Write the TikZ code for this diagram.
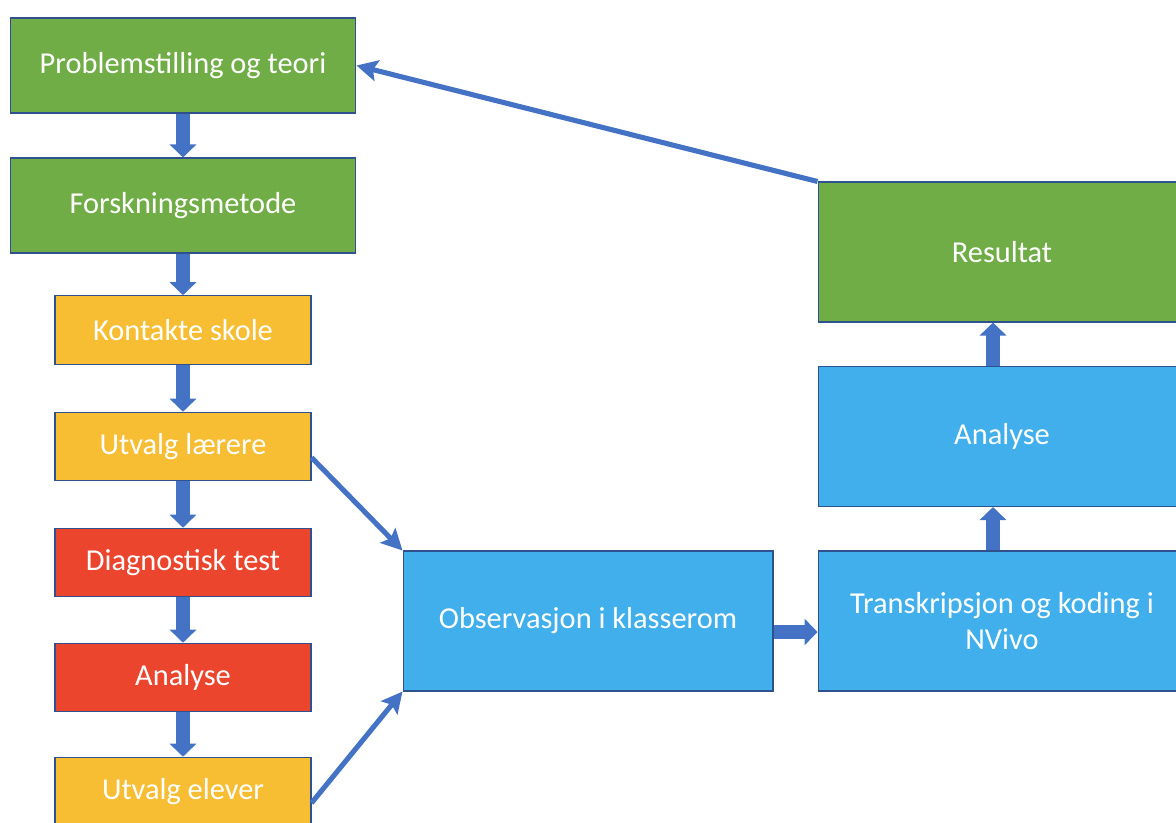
\documentclass[tikz,border=0pt]{standalone}
\usepackage{fontspec}
\setmainfont{Carlito}
\usetikzlibrary{arrows.meta}

\definecolor{grn}{HTML}{70AD47}
\definecolor{gul}{HTML}{F7BD33}
\definecolor{rod}{HTML}{EC452E}
\definecolor{bla}{HTML}{40AFEC}
\definecolor{pil}{HTML}{4472C4}
\definecolor{kant}{HTML}{2F528F}

\begin{document}
\begin{tikzpicture}[x=0.02cm, y=-0.02cm,
    boks/.style={draw=kant, line width=0.6pt, text=white, align=center, inner sep=0pt,
        font=\fontsize{17.3}{21}\selectfont},
    stor/.style={boks, fill=grn, minimum width=6.92cm, minimum height=1.9cm},
    liten/.style={boks, minimum width=5.12cm, minimum height=1.37cm},
    bred/.style={boks, fill=bla, minimum height=2.8cm},
    blokkpil/.style={draw=pil, line width=0.28cm, -{Triangle[width=0.52cm, length=0.26cm]}},
    tynnpil/.style={draw=pil, line width=2.9pt, -{Stealth[width=0.42cm, length=0.42cm, inset=0.08cm]}}]
    \useasboundingbox (0,0) rectangle (1176,822);
    % venstre kolonne
    \node[stor] (prob) at (183,65.5) {Problemstilling og teori};
    \node[stor] (metode) at (183,205.5) {Forskningsmetode};
    \node[liten, fill=gul] (skole) at (183,330) {Kontakte skole};
    \node[liten, fill=gul] (laerere) at (183,446.5) {Utvalg lærere};
    \node[liten, fill=rod] (test) at (183,562.5) {Diagnostisk test};
    \node[liten, fill=rod] (analyseA) at (183,677.5) {Analyse};
    \node[liten, fill=gul] (elever) at (183,791.5) {Utvalg elever};
    \draw[blokkpil] (prob) -- (metode);
    \draw[blokkpil] (metode) -- (skole);
    \draw[blokkpil] (skole) -- (laerere);
    \draw[blokkpil] (laerere) -- (test);
    \draw[blokkpil] (test) -- (analyseA);
    \draw[blokkpil] (analyseA) -- (elever);
    % midten og hoyre
    \node[bred, minimum width=7.4cm] (obs) at (588,621) {Observasjon i klasserom};
    \node[bred, minimum width=7.36cm] (trans) at (1002,621) {Transkripsjon og koding i\\NVivo};
    \node[bred, minimum width=7.36cm] (analyseB) at (1002,436.5) {Analyse};
    \node[bred, minimum width=7.36cm, fill=grn] (res) at (1002,252) {Resultat};
    \draw[blokkpil] ([yshift=-0.22cm]obs.east) -- ([yshift=-0.22cm]trans.west);
    \draw[blokkpil] ([xshift=-0.18cm]trans.north) -- ([xshift=-0.18cm]analyseB.south);
    \draw[blokkpil] ([xshift=-0.18cm]analyseB.north) -- ([xshift=-0.18cm]res.south);
    % tynne piler
    \draw[tynnpil] ([yshift=-0.22cm]laerere.east) -- (obs.north west);
    \draw[tynnpil] ([yshift=-0.23cm]elever.east) -- (obs.south west);
    \draw[tynnpil] (res.north west) -- (prob.east);
\end{tikzpicture}
\end{document}
